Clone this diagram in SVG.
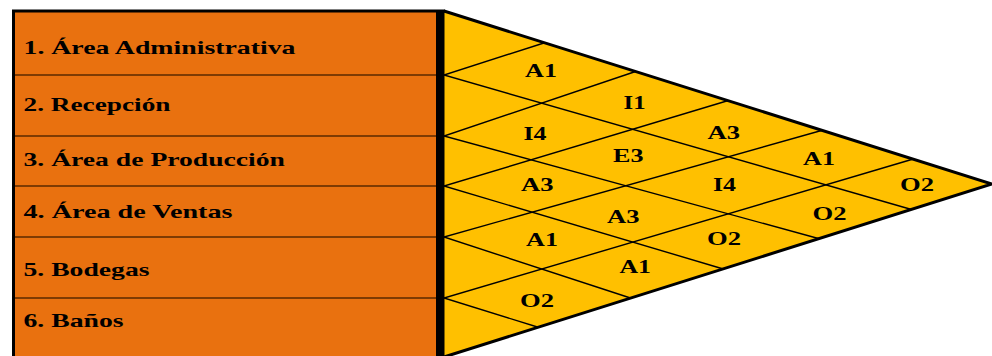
<svg xmlns="http://www.w3.org/2000/svg" width="992" height="356" viewBox="0 0 992 356">
<style>
.row{fill:#E9710F}
.lbl{font-family:"Liberation Serif","Times New Roman",serif;font-weight:bold;font-size:19px;fill:#000}
.cell{font-family:"Liberation Serif","Times New Roman",serif;font-weight:bold;font-size:18.5px;fill:#000}
.div{stroke:#5a2a00;stroke-width:1.5}
.diag{stroke:#000;stroke-width:1.4;fill:none}
</style>
<defs>
<clipPath id="tri"><polygon points="444,11 992,184 444,357"/></clipPath>
</defs>
<rect x="0" y="0" width="992" height="356" fill="#fff"/>
<g id="row1"><rect class="row" x="13" y="11" width="424" height="64"/><text class="lbl" x="23.5" y="54" textLength="272" lengthAdjust="spacingAndGlyphs">1. Área Administrativa</text></g>
<g id="row2"><rect class="row" x="13" y="75" width="424" height="61"/><text class="lbl" x="23.5" y="111" textLength="147" lengthAdjust="spacingAndGlyphs">2. Recepción</text></g>
<g id="row3"><rect class="row" x="13" y="136" width="424" height="50"/><text class="lbl" x="23.5" y="165.5" textLength="261.5" lengthAdjust="spacingAndGlyphs">3. Área de Producción</text></g>
<g id="row4"><rect class="row" x="13" y="186" width="424" height="51"/><text class="lbl" x="23.5" y="218" textLength="209" lengthAdjust="spacingAndGlyphs">4. Área de Ventas</text></g>
<g id="row5"><rect class="row" x="13" y="237" width="424" height="61"/><text class="lbl" x="23.5" y="276" textLength="126" lengthAdjust="spacingAndGlyphs">5. Bodegas</text></g>
<g id="row6"><rect class="row" x="13" y="298" width="424" height="62"/><text class="lbl" x="23.5" y="326.5" textLength="100" lengthAdjust="spacingAndGlyphs">6. Baños</text></g>
<g id="dividers">
<line class="div" x1="15" y1="75" x2="437" y2="75"/>
<line class="div" x1="15" y1="136" x2="437" y2="136"/>
<line class="div" x1="15" y1="186" x2="437" y2="186" stroke="#000"/>
<line class="div" x1="15" y1="237" x2="437" y2="237"/>
<line class="div" x1="15" y1="298" x2="437" y2="298"/>
</g>
<g id="triangle"><polygon points="444,11 992,184 444,357" fill="#FFC000"/></g>
<g id="connectors" clip-path="url(#tri)">
<line class="diag" x1="444" y1="75" x2="547" y2="42"/>
<line class="diag" x1="444" y1="136" x2="637" y2="71"/>
<line class="diag" x1="444" y1="186" x2="730" y2="100"/>
<line class="diag" x1="444" y1="237" x2="825" y2="129.5"/>
<line class="diag" x1="444" y1="298" x2="915" y2="158.5"/>
<line class="diag" x1="444" y1="75" x2="915" y2="210.5"/>
<line class="diag" x1="444" y1="136" x2="822" y2="239.5"/>
<line class="diag" x1="444" y1="186" x2="725" y2="269.5"/>
<line class="diag" x1="444" y1="237" x2="632" y2="298.5"/>
<line class="diag" x1="444" y1="298" x2="539" y2="327.5"/>
</g>
<g id="outline">
<polyline points="444,11 992,184 444,357" fill="none" stroke="#000" stroke-width="3" stroke-linejoin="miter"/>
<line x1="12" y1="11" x2="445" y2="11" stroke="#000" stroke-width="3"/>
<line x1="13.5" y1="10" x2="13.5" y2="356" stroke="#000" stroke-width="3"/>
<rect x="436" y="10" width="8.5" height="346" fill="#000"/>
</g>
<g id="cells">
<g id="c12"><text class="cell" x="525" y="76.5" textLength="32" lengthAdjust="spacingAndGlyphs">A1</text></g>
<g id="c13"><text class="cell" x="623.5" y="108.5" textLength="22" lengthAdjust="spacingAndGlyphs">I1</text></g>
<g id="c14"><text class="cell" x="707.5" y="138.5" textLength="32.5" lengthAdjust="spacingAndGlyphs">A3</text></g>
<g id="c15"><text class="cell" x="803" y="165" textLength="32" lengthAdjust="spacingAndGlyphs">A1</text></g>
<g id="c16"><text class="cell" x="900" y="190.5" textLength="34" lengthAdjust="spacingAndGlyphs">O2</text></g>
<g id="c23"><text class="cell" x="523.5" y="140" textLength="23" lengthAdjust="spacingAndGlyphs">I4</text></g>
<g id="c24"><text class="cell" x="613" y="161.5" textLength="30.5" lengthAdjust="spacingAndGlyphs">E3</text></g>
<g id="c25"><text class="cell" x="713" y="191" textLength="23" lengthAdjust="spacingAndGlyphs">I4</text></g>
<g id="c26"><text class="cell" x="812.5" y="219.5" textLength="34" lengthAdjust="spacingAndGlyphs">O2</text></g>
<g id="c34"><text class="cell" x="521" y="190.5" textLength="32.5" lengthAdjust="spacingAndGlyphs">A3</text></g>
<g id="c35"><text class="cell" x="607" y="222.5" textLength="32.5" lengthAdjust="spacingAndGlyphs">A3</text></g>
<g id="c36"><text class="cell" x="707" y="245" textLength="34" lengthAdjust="spacingAndGlyphs">O2</text></g>
<g id="c45"><text class="cell" x="526" y="246" textLength="32" lengthAdjust="spacingAndGlyphs">A1</text></g>
<g id="c46"><text class="cell" x="619.5" y="272.5" textLength="31.5" lengthAdjust="spacingAndGlyphs">A1</text></g>
<g id="c56"><text class="cell" x="520" y="306.5" textLength="34" lengthAdjust="spacingAndGlyphs">O2</text></g>
</g>
</svg>
